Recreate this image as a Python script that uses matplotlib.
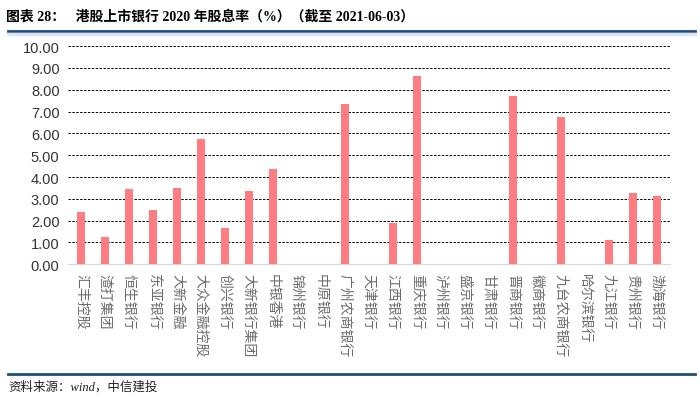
import matplotlib
matplotlib.use('Agg')
import matplotlib.pyplot as plt
from matplotlib.lines import Line2D

plt.rcParams['font.family'] = ['Noto Sans CJK SC', 'DejaVu Sans']

banks = ['汇丰控股', '渣打集团', '恒生银行', '东亚银行', '大新金融', '大众金融控股',
         '创兴银行', '大新银行集团', '中银香港', '锦州银行', '中原银行', '广州农商银行',
         '天津银行', '江西银行', '重庆银行', '泸州银行', '盛京银行', '甘肃银行',
         '晋商银行', '徽商银行', '九台农商银行', '哈尔滨银行', '九江银行', '贵州银行',
         '渤海银行']
yields = [2.40, 1.25, 3.45, 2.50, 3.48, 5.72, 1.65, 3.38, 4.38, 0, 0, 7.35,
          0, 1.88, 8.62, 0, 0, 0, 7.70, 0, 6.75, 0, 1.10, 3.25, 3.12]
yticks = [0, 1, 2, 3, 4, 5, 6, 7, 8, 9, 10]

fig = plt.figure(figsize=(7.0, 4.02), dpi=100)
ax = fig.add_axes([0.097, 0.34, 0.86, 0.543])

x = range(len(banks))
ax.bar(x, yields, width=0.34, color='#FF7C80', zorder=3)

ax.set_ylim(0, 10)
ax.set_xlim(-0.55, len(banks) - 0.45)
ax.set_yticks(yticks)
ax.set_yticklabels(['%.2f' % v for v in yticks], fontsize=10.5,
                   family=['Liberation Sans', 'DejaVu Sans'], color='#333333')
ax.grid(axis='y', linestyle=(0, (2.5, 1.5)), color='black', linewidth=0.7, zorder=1)
ax.set_xticks(list(x))
ax.set_xticklabels(banks, rotation=270, fontsize=10, color='#6B6B6B', va='top')
ax.tick_params(axis='both', length=0)
ax.tick_params(axis='x', pad=6)
ax.tick_params(axis='y', pad=6)
for s in ['top', 'right', 'left']:
    ax.spines[s].set_visible(False)
ax.spines['bottom'].set_color('#D9D9D9')

# title and source
fig.text(0.008, 0.958, '图表 28：   港股上市银行 2020 年股息率（%）（截至 2021-06-03）',
         fontsize=10, fontweight='bold', va='center', ha='left',
         family=['Liberation Serif', 'Noto Sans CJK SC'])
fig.text(0.012, 0.035, '资料来源：wind，中信建投', fontsize=9, style='italic',
         va='center', ha='left', color='#222222',
         family=['Liberation Serif', 'Noto Sans CJK SC'])

fig.add_artist(Line2D([0.012, 0.993], [0.921, 0.921], color='#1F4E79', linewidth=2.0))
fig.add_artist(Line2D([0.012, 0.993], [0.912, 0.912], color='#DCE6F2', linewidth=2.5))
fig.add_artist(Line2D([0.012, 0.993], [0.068, 0.068], color='#1F4E79', linewidth=2.0))

fig.savefig('out.png', dpi=100)
